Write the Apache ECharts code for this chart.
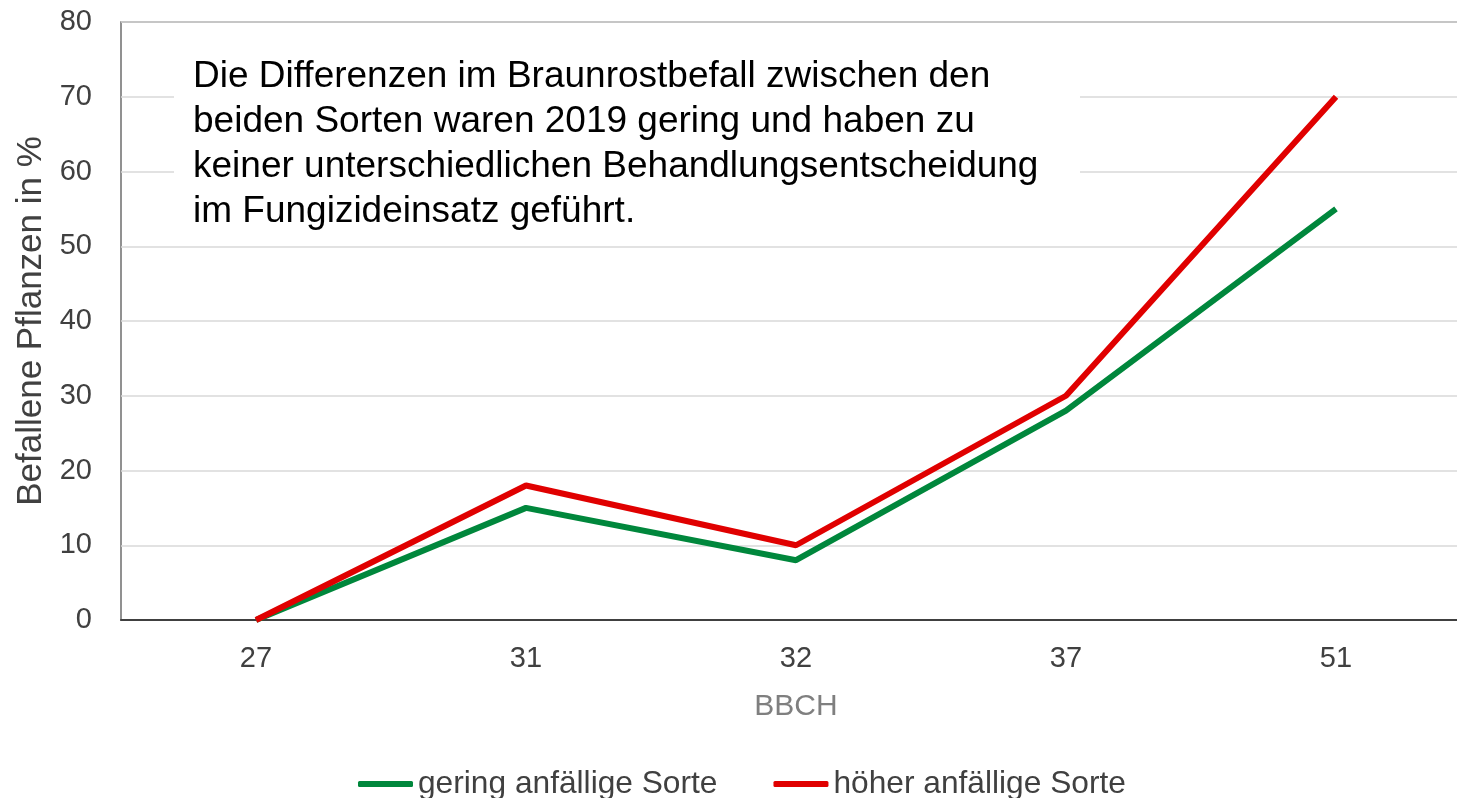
<!DOCTYPE html>
<html>
<head>
<meta charset="utf-8">
<script src="https://cdn.jsdelivr.net/npm/echarts@6/dist/echarts.min.js"></script>
<style>
  html, body { margin: 0; padding: 0; background: #fff; }
  #my_chart { width: 1457px; height: 798px; }
</style>
</head>
<body>
<div id="my_chart"></div>
<script>
  // BBCH stages
  var categories = ['27', '31', '32', '37', '51'];
  var geringValues = [0, 15, 8, 28, 55];
  var hoeherValues = [0, 18, 10, 30, 70];
  var seriesNames = ['gering anfällige Sorte', 'höher anfällige Sorte'];
  var noteLines = [
    'Die Differenzen im Braunrostbefall zwischen den',
    'beiden Sorten waren 2019 gering und haben zu',
    'keiner unterschiedlichen Behandlungsentscheidung',
    'im Fungizideinsatz geführt.'
  ];

  var font = '"Liberation Sans", Arial, sans-serif';
  var my_chart = echarts.init(document.getElementById('my_chart'));

  my_chart.setOption({
    animation: false,
    textStyle: { fontFamily: font },
    grid: {
      left: 121, top: 22, width: 1350, height: 598,
      outerBoundsMode: 'none',
      containLabel: false,
      show: true, borderColor: '#6e6e6e', borderWidth: 1.5
    },
    legend: {
      top: 768,
      left: 358,
      padding: 0,
      itemWidth: 55,
      itemHeight: 6,
      itemGap: 56,
      icon: 'roundRect',
      textStyle: { fontSize: 31.7, color: '#404040', fontFamily: font },
      data: seriesNames
    },
    xAxis: {
      type: 'category',
      data: categories,
      boundaryGap: true,
      name: 'BBCH',
      nameLocation: 'middle',
      nameGap: 72,
      nameTextStyle: { fontSize: 30, color: '#7f7f7f', fontFamily: font },
      axisLine: { lineStyle: { color: '#404040', width: 2 } },
      axisTick: { show: false },
      axisLabel: { fontSize: 29, color: '#404040', margin: 24, fontFamily: font }
    },
    yAxis: {
      type: 'value',
      min: 0, max: 80, interval: 10,
      name: 'Befallene Pflanzen in %',
      nameLocation: 'middle',
      nameGap: 70,
      nameTextStyle: { fontSize: 35, color: '#404040', fontFamily: font },
      axisLine: { show: false },
      axisTick: { show: false },
      axisLabel: { fontSize: 29, color: '#404040', margin: 29, fontFamily: font },
      splitLine: { lineStyle: { color: '#d9d9d9', width: 1.5 } }
    },
    graphic: [{
      type: 'rect',
      z: 100,
      shape: { x: 174, y: 40, width: 906, height: 198 },
      style: { fill: '#ffffff' }
    }, {
      type: 'text',
      z: 101,
      x: 193, y: 54,
      style: {
        text: noteLines.join('\n'),
        font: '37px ' + font,
        fill: '#000000',
        lineHeight: 45
      }
    }],
    series: [{
      name: seriesNames[0],
      type: 'line',
      data: geringValues,
      symbol: 'none',
      color: '#00873c',
      lineStyle: { color: '#00873c', width: 6 },
      z: 3
    }, {
      name: seriesNames[1],
      type: 'line',
      data: hoeherValues,
      symbol: 'none',
      color: '#e00000',
      lineStyle: { color: '#e00000', width: 6 },
      z: 4
    }]
  });
</script>
</body>
</html>
